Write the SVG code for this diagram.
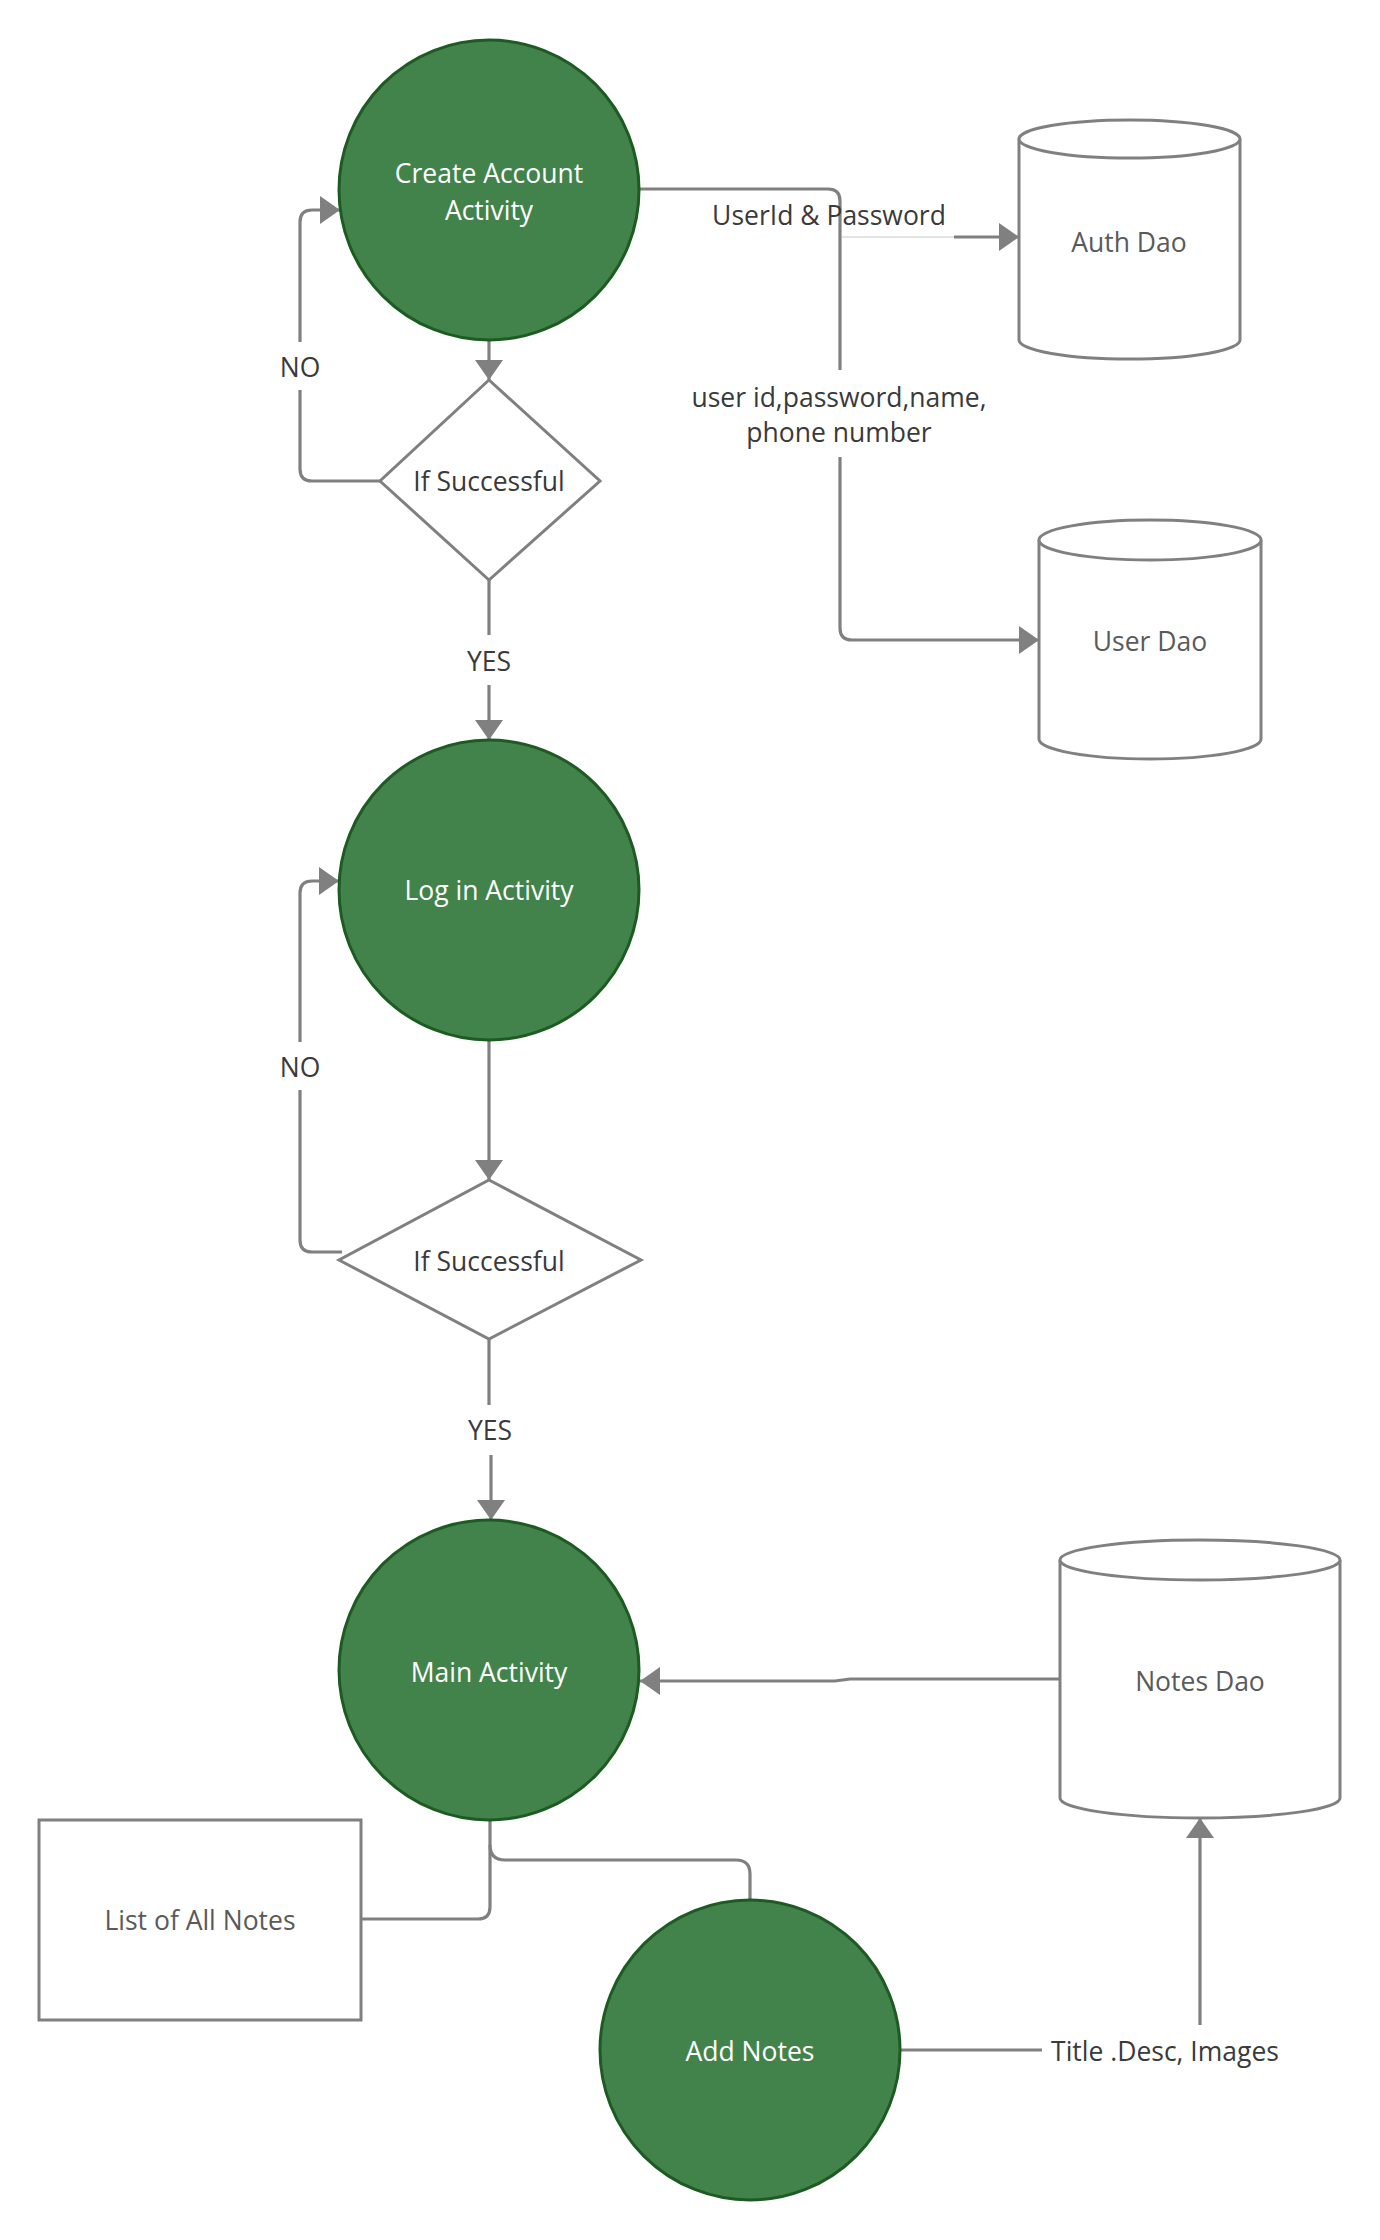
<svg xmlns="http://www.w3.org/2000/svg" width="1380" height="2240" viewBox="0 0 1380 2240">
<style>
  .act { fill: #42834b; stroke: #1e5b23; stroke-width: 3; }
  .actText { font-family: "Open Sans", "Noto Sans", sans-serif; font-size: 26.5px; fill: #ffffff; text-anchor: middle; }
  .shape { fill: #ffffff; stroke: #808080; stroke-width: 3; }
  .shapeText { font-family: "Open Sans", "Noto Sans", sans-serif; font-size: 26.5px; fill: #5a5a5a; text-anchor: middle; }
  .lbl { font-family: "Open Sans", "Noto Sans", sans-serif; font-size: 26.5px; fill: #3a3a3a; text-anchor: middle; }
  .conn { fill: none; stroke: #808080; stroke-width: 3.2; }
  .thin { fill: none; stroke: #c8c8c8; stroke-width: 1.2; }
</style>
<defs>
  <marker id="arrow" viewBox="0 0 20 28" refX="20" refY="14" markerWidth="20" markerHeight="28" markerUnits="userSpaceOnUse" orient="auto">
    <path d="M0,0 L20,14 L0,28 Z" fill="#808080"/>
  </marker>
</defs>
<rect x="0" y="0" width="1380" height="2240" fill="#ffffff"/>

<g id="connectors">
  <path class="conn" d="M489,340 L489,380" marker-end="url(#arrow)"/>
  <path class="conn" d="M380,481 L312,481 Q300,481 300,469 L300,390 M300,342 L300,222 Q300,210 312,210 L340,210" marker-end="url(#arrow)"/>
  <path class="conn" d="M489,580 L489,635 M489,685 L489,740" marker-end="url(#arrow)"/>
  <path class="conn" d="M640,189 L828,189 Q840,189 840,201 L840,370 M840,457 L840,628 Q840,640 852,640 L1039,640" marker-end="url(#arrow)"/>
  <path class="thin" d="M842,237 L954,237"/>
  <path class="conn" d="M954,237 L1019,237" marker-end="url(#arrow)"/>
  <path class="conn" d="M489,1040 L489,1180" marker-end="url(#arrow)"/>
  <path class="conn" d="M342,1252 L312,1252 Q300,1252 300,1240 L300,1090 M300,1042 L300,893 Q300,881 312,881 L339,881" marker-end="url(#arrow)"/>
  <path class="conn" d="M489,1339 L489,1405 M491,1455 L491,1520" marker-end="url(#arrow)"/>
  <path class="conn" d="M1060,1679 L850,1679 L835,1681 L640,1681" marker-end="url(#arrow)"/>
  <path class="conn" d="M490,1820 L490,1907 Q490,1919 478,1919 L361,1919"/>
  <path class="conn" d="M490,1845 Q490,1860 505,1860 L736,1860 Q750,1860 750,1874 L750,1900"/>
  <path class="conn" d="M900,2050 L1042,2050 M1200,2025 L1200,1818" marker-end="url(#arrow)"/>
  <text class="lbl" x="300" y="377">NO</text>
  <text class="lbl" x="489" y="671">YES</text>
  <text class="lbl" x="300" y="1077">NO</text>
  <text class="lbl" x="490" y="1440">YES</text>
  <text class="lbl" x="829" y="225">UserId &amp; Password</text>
  <text class="lbl" x="839" y="407">user id,password,name,</text>
  <text class="lbl" x="839" y="442">phone number</text>
  <text class="lbl" x="1165" y="2061">Title .Desc, Images</text>
</g>

<g id="create-account">
  <circle class="act" cx="489" cy="190" r="150"/>
  <text class="actText" x="489" y="183">Create Account</text>
  <text class="actText" x="489" y="220">Activity</text>
</g>

<g id="decision-1">
  <polygon class="shape" points="489,380 600,481 489,580 380,481"/>
  <text class="shapeText" x="489" y="491" style="fill:#3a3a3a">If Successful</text>
</g>

<g id="auth-dao">
  <path class="shape" d="M1019,139 A110.5,19 0 0 1 1240,139 L1240,340 A110.5,19 0 0 1 1019,340 Z"/>
  <path class="shape" d="M1019,139 A110.5,19 0 0 0 1240,139" fill="none"/>
  <text class="shapeText" x="1129" y="252">Auth Dao</text>
</g>

<g id="user-dao">
  <path class="shape" d="M1039,540 A111,20 0 0 1 1261,540 L1261,739 A111,20 0 0 1 1039,739 Z"/>
  <path class="shape" d="M1039,540 A111,20 0 0 0 1261,540" fill="none"/>
  <text class="shapeText" x="1150" y="651">User Dao</text>
</g>

<g id="login-activity">
  <circle class="act" cx="489" cy="890" r="150"/>
  <text class="actText" x="489" y="900">Log in Activity</text>
</g>

<g id="decision-2">
  <polygon class="shape" points="489,1180 641,1260 489,1339 339,1260"/>
  <text class="shapeText" x="489" y="1271" style="fill:#3a3a3a">If Successful</text>
</g>

<g id="main-activity">
  <circle class="act" cx="489" cy="1670" r="150"/>
  <text class="actText" x="489" y="1682">Main Activity</text>
</g>

<g id="notes-dao">
  <path class="shape" d="M1060,1560 A140,20 0 0 1 1340,1560 L1340,1798 A140,20 0 0 1 1060,1798 Z"/>
  <path class="shape" d="M1060,1560 A140,20 0 0 0 1340,1560" fill="none"/>
  <text class="shapeText" x="1200" y="1691">Notes Dao</text>
</g>

<g id="list-notes">
  <rect class="shape" x="39" y="1820" width="322" height="200"/>
  <text class="shapeText" x="200" y="1930">List of All Notes</text>
</g>

<g id="add-notes">
  <circle class="act" cx="750" cy="2050" r="150"/>
  <text class="actText" x="750" y="2061">Add Notes</text>
</g>
</svg>
